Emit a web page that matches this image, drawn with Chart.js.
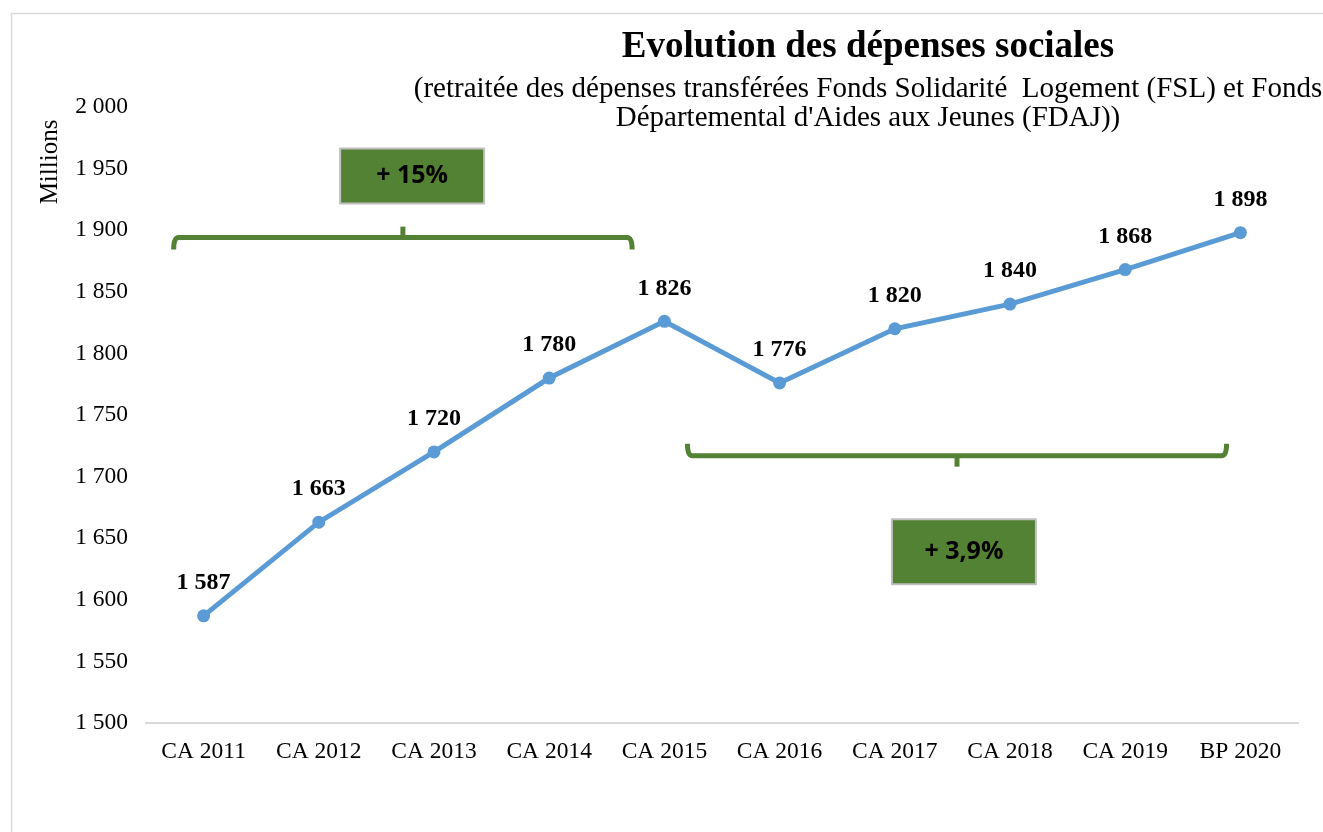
<!DOCTYPE html>
<html>
<head>
<meta charset="utf-8">
<script src="https://cdn.jsdelivr.net/npm/chart.js@4"></script>
<style>
  body { margin: 0; background: #fff; }
  canvas { display: block; }
</style>
</head>
<body>
<canvas id="depenses-chart" width="1323" height="832"></canvas>
<script>
const depensesCanvas = document.getElementById("depenses-chart");

// data
const years = ["CA 2011", "CA 2012", "CA 2013", "CA 2014", "CA 2015", "CA 2016", "CA 2017", "CA 2018", "CA 2019", "BP 2020"];
const depenses = [1587, 1663, 1720, 1780, 1826, 1776, 1820, 1840, 1868, 1898];
const yTicks = [1500, 1550, 1600, 1650, 1700, 1750, 1800, 1850, 1900, 1950, 2000];

const titleText = "Evolution des dépenses sociales";
const subtitleLines = [
  "(retraitée des dépenses transférées Fonds Solidarité  Logement (FSL) et Fonds",
  "Départemental d'Aides aux Jeunes (FDAJ))"
];

// brackets + boxes (in category index / value units)
const brackets = [
  { from: -0.26, to: 3.72, value: 1894, dir: 1, label: "+ 15%", boxX: 1.81, boxY: 1944 },
  { from: 4.2, to: 8.88, value: 1717, dir: -1, label: "+ 3,9%", boxX: 6.6, boxY: 1639 }
];

const GREEN = "#548235";
const BLUE = "#5B9BD5";
const SERIF = "'Liberation Serif', 'Times New Roman', serif";

const fmt = v => {
  const s = String(v);
  return s.length > 3 ? s.slice(0, s.length - 3) + " " + s.slice(-3) : s;
};

/////////////////////////////////////////////////////
// custom drawing : frame, titles, labels, brackets
const decorPlugin = {
  id: "decor",
  beforeDraw(chart) {
    const ctx = chart.ctx;
    ctx.save();
    ctx.fillStyle = "#fff";
    ctx.fillRect(0, 0, chart.width, chart.height);
    ctx.strokeStyle = "#d9d9d9";
    ctx.lineWidth = 1.5;
    ctx.strokeRect(11.5, 13.5, 1400, 900);
    ctx.restore();
  },
  afterDraw(chart) {
    const ctx = chart.ctx;
    const x = chart.scales.x;
    const y = chart.scales.y;
    ctx.save();

    // title
    ctx.fillStyle = "#000";
    ctx.textAlign = "center";
    ctx.textBaseline = "middle";
    ctx.font = "bold 37px " + SERIF;
    ctx.fillText(titleText, 868, 47);
    ctx.font = "29px " + SERIF;
    ctx.fillText(subtitleLines[0], 868, 89);
    ctx.fillText(subtitleLines[1], 868, 118);

    // axis title
    ctx.save();
    ctx.translate(50, 162);
    ctx.rotate(-Math.PI / 2);
    ctx.font = "25px " + SERIF;
    ctx.fillText("Millions", 0, 0);
    ctx.restore();

    // point labels
    ctx.font = "bold 24px " + SERIF;
    const meta = chart.getDatasetMeta(0);
    meta.data.forEach((pt, i) => {
      ctx.fillText(fmt(depenses[i]), pt.x, pt.y - 33);
    });

    // brackets
    brackets.forEach(b => {
      const x1 = x.getPixelForValue(b.from);
      const x2 = x.getPixelForValue(b.to);
      const yy = y.getPixelForValue(b.value);
      const xm = (x1 + x2) / 2;
      const d = b.dir;
      ctx.strokeStyle = GREEN;
      ctx.lineWidth = 5;
      ctx.lineJoin = "round";
      ctx.beginPath();
      ctx.moveTo(x1, yy + d * 12);
      ctx.quadraticCurveTo(x1, yy, x1 + 5, yy);
      ctx.lineTo(x2 - 5, yy);
      ctx.quadraticCurveTo(x2, yy, x2, yy + d * 12);
      ctx.stroke();
      ctx.beginPath();
      ctx.moveTo(xm, yy);
      ctx.lineTo(xm, yy - d * 11);
      ctx.stroke();

      // box
      const bx = x.getPixelForValue(b.boxX);
      const by = y.getPixelForValue(b.boxY);
      const w = 144, h = b.dir > 0 ? 55 : 65;
      ctx.fillStyle = GREEN;
      ctx.fillRect(bx - w / 2, by - h / 2, w, h);
      ctx.strokeStyle = "#bfbfbf";
      ctx.lineWidth = 2;
      ctx.strokeRect(bx - w / 2, by - h / 2, w, h);
      ctx.fillStyle = "#000";
      ctx.font = "bold 25px 'Open Sans', 'Liberation Sans', sans-serif";
      ctx.fillText(b.label, bx, by);
    });

    ctx.restore();
  }
};

let depensesChart = new Chart(depensesCanvas, {
  type: "line",
  data: {
    labels: years,
    datasets: [{
      data: depenses,
      borderColor: BLUE,
      backgroundColor: BLUE,
      borderWidth: 5,
      pointRadius: 6.5,
      pointBackgroundColor: BLUE,
      pointBorderWidth: 0,
      tension: 0
    }]
  },
  options: {
    responsive: false,
    animation: false,
    layout: {
      padding: { left: 0, right: 25, top: 107, bottom: 49 }
    },
    scales: {
      x: {
        offset: true,
        grid: { display: false, drawTicks: false },
        border: { display: true, color: "#d9d9d9", width: 2 },
        ticks: {
          color: "#000",
          padding: 15,
          maxRotation: 0,
          font: { family: SERIF, size: 23.5 }
        },
        afterFit: scale => { scale.height = 60; }
      },
      y: {
        min: 1500,
        max: 2000,
        grid: { display: false, drawTicks: false },
        border: { display: false },
        afterBuildTicks: scale => {
          scale.ticks = yTicks.map(v => ({ value: v }));
        },
        ticks: {
          color: "#000",
          padding: 18,
          font: { family: SERIF, size: 23.5 },
          callback: v => fmt(v)
        },
        afterFit: scale => { scale.width = 146; }
      }
    },
    plugins: {
      legend: { display: false },
      tooltip: { enabled: false }
    }
  },
  plugins: [decorPlugin]
});
</script>
</body>
</html>
